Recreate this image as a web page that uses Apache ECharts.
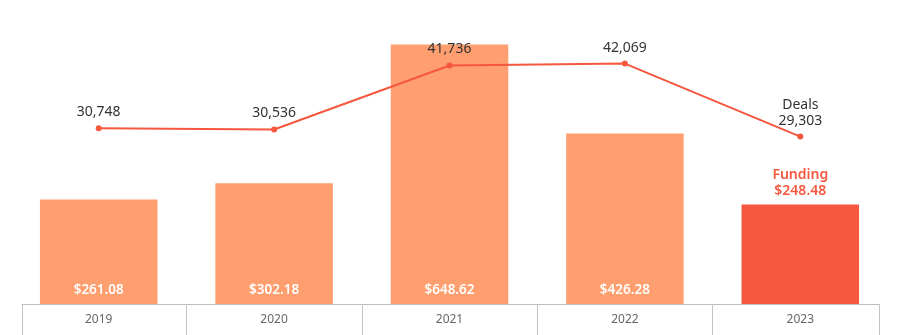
<!DOCTYPE html>
<html>
<head>
<meta charset="utf-8">
<script src="https://cdn.jsdelivr.net/npm/echarts@6/dist/echarts.min.js"></script>
<style>
html,body{margin:0;padding:0;background:#fff;}
#chart{width:900px;height:335px;}
</style>
</head>
<body>
<div id="chart"></div>
<script>
var years = ['2019', '2020', '2021', '2022', '2023'];
var fundingValues = [261.08, 302.18, 648.62, 426.28, 248.48];
var dealsValues = [30748, 30536, 41736, 42069, 29303];

var ORANGE = '#FF9E6F';
var RED = '#F5573F';
var FONT = '"Noto Sans", sans-serif';
var last = years.length - 1;
// category boundaries between adjacent years (in category-index units)
var boundaries = years.slice(1).map(function (y, i) { return i + 0.5; });

var chart = echarts.init(document.getElementById('chart'), null, {renderer: 'canvas'});
chart.setOption({
  animation: false,
  textStyle: {fontFamily: FONT},
  grid: [
    {left: 11, right: 12, top: 24, bottom: 31},
    {left: 22, right: 21, top: 24, bottom: 31}
  ],
  xAxis: [
    {
      type: 'category', gridIndex: 0, data: years, position: 'bottom',
      axisLine: {show: false},
      axisTick: {show: false},
      axisLabel: {interval: 0, color: '#666', fontSize: 12, margin: 10, fontFamily: FONT}
    },
    {
      type: 'value', gridIndex: 1, min: 0, max: 1, interval: 1, position: 'bottom',
      axisLine: {show: true, onZero: false, lineStyle: {color: '#bdbdbd'}},
      axisTick: {show: true, length: 31, lineStyle: {color: '#c4c4c4'}},
      axisLabel: {show: false},
      splitLine: {show: false}
    },
    {
      type: 'value', gridIndex: 0, min: -0.5, max: years.length - 0.5, position: 'bottom',
      axisLine: {show: false, onZero: false},
      axisTick: {show: true, inside: false, length: 31, lineStyle: {color: '#c4c4c4'}, customValues: boundaries},
      axisLabel: {show: false},
      splitLine: {show: false}
    }
  ],
  yAxis: [
    {type: 'value', gridIndex: 0, min: 0, max: 700, show: false, splitLine: {show: false}},
    {type: 'value', gridIndex: 0, min: 0, max: 49000, show: false, splitLine: {show: false}},
    {type: 'value', gridIndex: 1, show: false}
  ],
  series: [
    {
      type: 'bar', xAxisIndex: 0, yAxisIndex: 0,
      barWidth: '67%',
      data: fundingValues.map(function (v, i) {
        if (i !== last) return {value: v, itemStyle: {color: ORANGE}};
        return {
          value: v, itemStyle: {color: RED},
          label: {position: 'top', distance: 6, color: RED, fontWeight: 600, fontSize: 14, lineHeight: 16}
        };
      }),
      label: {
        show: true,
        position: 'insideBottom',
        distance: 7,
        color: '#fff',
        fontSize: 13.5,
        fontWeight: 600,
        fontFamily: FONT,
        formatter: function (p) {
          var s = '$' + p.value.toFixed(2);
          return p.dataIndex === last ? 'Funding\n' + s : s;
        }
      },
      z: 1
    },
    {
      type: 'line', xAxisIndex: 0, yAxisIndex: 1,
      data: dealsValues,
      lineStyle: {color: RED, width: 2},
      itemStyle: {color: RED},
      symbol: 'circle', symbolSize: 6,
      label: {
        show: true, position: 'top', distance: 5,
        color: '#333', fontSize: 14, fontFamily: FONT, lineHeight: 16,
        formatter: function (p) {
          var s = p.value.toLocaleString('en-US');
          return p.dataIndex === last ? 'Deals\n' + s : s;
        }
      },
      z: 3
    }
  ]
});
</script>
</body>
</html>
